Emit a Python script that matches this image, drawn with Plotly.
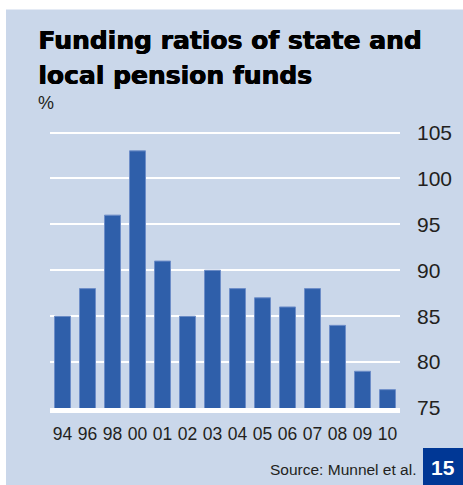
import plotly.graph_objects as go

# Funding ratios (%) by year
years = ["94", "96", "98", "00", "01", "02", "03", "04", "05", "06", "07", "08", "09", "10"]
ratios = [85, 88, 96, 103, 91, 85, 90, 88, 87, 86, 88, 84, 79, 77]
y_ticks = [75, 80, 85, 90, 95, 100, 105]

W, H = 463, 485
L, R, T, B = 50, 63, 120, 77
PW, PH = W - L - R, H - T - B

PANEL = "#cad7ea"
BAR = "#2f5faa"
TEXT = "#231f20"


def px(x):
    return (x - L) / PW


def py(y):
    return (H - B - y) / PH


fig = go.Figure(
    go.Bar(
        x=years,
        y=ratios,
        marker=dict(color=BAR, line=dict(color="#6d8dc8", width=1)),
        hovertemplate="%{x}: %{y}%<extra></extra>",
    )
)

fig.update_layout(
    width=W,
    height=H,
    margin=dict(l=L, r=R, t=T, b=B, pad=0),
    paper_bgcolor=PANEL,
    plot_bgcolor=PANEL,
    bargap=0.36,
    showlegend=False,
    font=dict(family="Liberation Sans, Arial, sans-serif", color=TEXT),
    xaxis=dict(
        type="category",
        showgrid=False,
        showline=True,
        linecolor="white",
        linewidth=4.5,
        ticks="",
        tickfont=dict(size=17.5, color=TEXT),
        ticklabelstandoff=6,
        fixedrange=True,
    ),
    yaxis=dict(
        side="right",
        range=[75, 75 + PH / (275.5 / 30)],
        tickvals=y_ticks,
        showgrid=True,
        gridcolor="white",
        gridwidth=2,
        zeroline=False,
        showline=False,
        ticks="",
        tickfont=dict(size=21, color=TEXT),
        ticklabelstandoff=16,
        fixedrange=True,
    ),
)

# White page margin around the tinted panel
fig.add_shape(type="rect", xref="paper", yref="paper",
              x0=px(0), x1=px(6), y0=py(H), y1=py(0),
              fillcolor="white", line=dict(width=0), layer="above")
fig.add_shape(type="rect", xref="paper", yref="paper",
              x0=px(0), x1=px(W), y0=py(9.5), y1=py(0),
              fillcolor="white", line=dict(width=0), layer="above")

# Page-number box
fig.add_shape(type="rect", xref="paper", yref="paper",
              x0=px(423), x1=px(W + 2), y0=py(H + 2), y1=py(448),
              fillcolor="#003795", line=dict(width=0), layer="above")

# Heavy headline: bold face thickened with a tight horizontal shadow
title_font = dict(family="DejaVu Sans, sans-serif", size=25, color="black",
                  shadow="0.8px 0px 0px black, 0.4px 0px 0px black")
fig.add_annotation(text="<b>Funding ratios of state and</b>", xref="paper", yref="paper",
                   x=px(36), y=py(40), xanchor="left", yanchor="middle",
                   showarrow=False, font=title_font)
fig.add_annotation(text="<b>local pension funds</b>", xref="paper", yref="paper",
                   x=px(36), y=py(75), xanchor="left", yanchor="middle",
                   showarrow=False, font=title_font)
fig.add_annotation(text="%", xref="paper", yref="paper",
                   x=px(36), y=py(103), xanchor="left", yanchor="middle",
                   showarrow=False, font=dict(size=18, color=TEXT))
fig.add_annotation(text="Source: Munnel et al.", xref="paper", yref="paper",
                   x=px(418), y=py(469.5), xanchor="right", yanchor="middle",
                   showarrow=False, font=dict(size=15.5, color=TEXT))
fig.add_annotation(text="<b>15</b>", xref="paper", yref="paper",
                   x=px(443), y=py(467), xanchor="center", yanchor="middle",
                   showarrow=False,
                   font=dict(family="Liberation Sans, Arial, sans-serif", size=21, color="white"))

fig.write_html("out.html", config={"displayModeBar": False})
